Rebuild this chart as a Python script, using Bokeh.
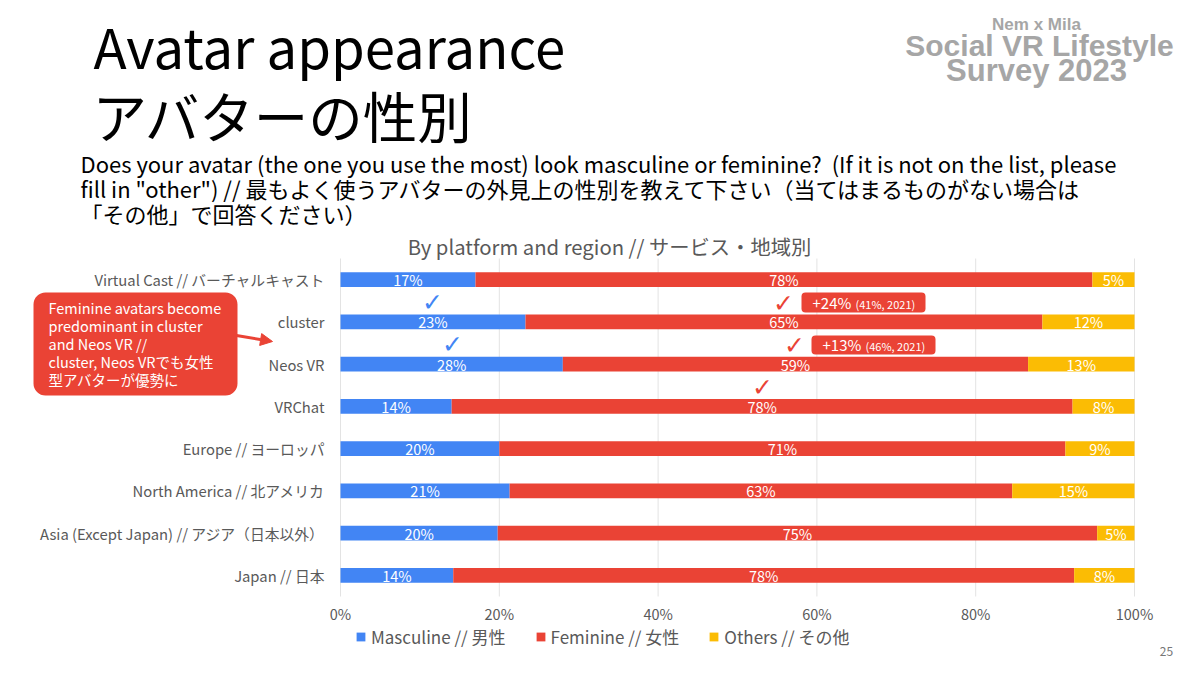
from bokeh.plotting import figure
from bokeh.models import (Range1d, LinearScale, LinearAxis, Label, BoxAnnotation, Arrow,
                          NormalHead, ColumnDataSource, FixedTicker, PrintfTickFormatter,
                          Legend, LegendItem)
from bokeh.embed import file_html
from bokeh.resources import INLINE
from bokeh.core.properties import value

# ---------------- data ----------------
categories = ["Virtual Cast // バーチャルキャスト", "cluster", "Neos VR", "VRChat",
              "Europe // ヨーロッパ", "North America // 北アメリカ",
              "Asia (Except Japan) // アジア（日本以外）", "Japan // 日本"]
masculine = [17.0, 23.3, 28.0, 14.0, 20.0, 21.3, 19.8, 14.2]
feminine = [77.7, 65.1, 58.6, 78.2, 71.3, 63.3, 75.5, 78.2]
others = [5.3, 11.6, 13.4, 7.8, 8.7, 15.4, 4.7, 7.6]
masc_labels = ["17%", "23%", "28%", "14%", "20%", "21%", "20%", "14%"]
fem_labels = ["78%", "65%", "59%", "78%", "71%", "63%", "75%", "78%"]
oth_labels = ["5%", "12%", "13%", "8%", "9%", "15%", "5%", "8%"]
series_names = ["Masculine // 男性", "Feminine // 女性", "Others // その他"]
x_ticks = [0, 20, 40, 60, 80, 100]

colors = ["#4285f4", "#ea4335", "#fbbc04"]
FONT = "Noto Sans CJK JP"
GREY = "#595959"

W, H = 1184, 659
# plot area (0..100 %, 0..n rows) placed at these page pixels
PL, PR, PT, PB = 340, 1134, 258, 596
n = len(categories)
kx = (PR - PL) / 100.0
ky = (PB - PT) / n
y_pos = [n - i - 0.5 for i in range(n)]  # first category on top

p = figure(width=W, height=H, output_backend="svg", toolbar_location=None,
           x_range=Range1d(-PL / kx, (W - PL) / kx),
           y_range=Range1d(-(H - PB) / ky, n + PT / ky),
           x_axis_location=None, y_axis_location=None,
           min_border=0, min_border_left=0, min_border_right=0,
           min_border_top=0, min_border_bottom=0)
p.extra_x_ranges = {"px": Range1d(0, W)}
p.extra_y_ranges = {"py": Range1d(H, 0)}
p.extra_x_scales = {"px": LinearScale()}
p.extra_y_scales = {"py": LinearScale()}
p.outline_line_color = None
p.background_fill_color = "white"
p.border_fill_color = "white"
p.xgrid.visible = False
p.ygrid.visible = False

# vertical grid lines at the x ticks, spanning the bar area
p.segment(x0=x_ticks, x1=x_ticks, y0=[0] * len(x_ticks), y1=[n] * len(x_ticks),
          line_color="#e3e3e3", line_width=1, level="underlay")

# stacked bars
series = [masculine, feminine, others]
labels = [masc_labels, fem_labels, oth_labels]
left = [0.0] * n
renderers = []
for vals, labs, col in zip(series, labels, colors):
    right = [l + v for l, v in zip(left, vals)]
    mid = [(l + r) / 2 for l, r in zip(left, right)]
    src = ColumnDataSource(dict(y=y_pos, left=left, right=right, mid=mid, lab=labs))
    r = p.hbar(y="y", left="left", right="right", height=0.35, source=src,
               fill_color=col, line_color=None)
    renderers.append(r)
    p.text(x="mid", y="y", text="lab", source=src, text_align="center",
           text_baseline="middle", text_color="white", text_font_size="14.5px",
           text_font=value(FONT))
    left = right

# axes (fixed at the 0 lines of the bar area)
xaxis = LinearAxis(fixed_location=0, ticker=FixedTicker(ticks=x_ticks),
                   formatter=PrintfTickFormatter(format="%d%%"))
yaxis = LinearAxis(fixed_location=0, ticker=FixedTicker(ticks=y_pos),
                   major_label_overrides={yp: c for yp, c in zip(y_pos, categories)})
for ax in (xaxis, yaxis):
    ax.axis_line_color = None
    ax.major_tick_line_color = None
    ax.minor_tick_line_color = None
    ax.major_tick_out = 0
    ax.major_tick_in = 0
    ax.minor_tick_out = 0
    ax.major_label_text_color = GREY
    ax.major_label_text_font = FONT
xaxis.major_label_text_font_size = "14.5px"
yaxis.major_label_text_font_size = "14.8px"
xaxis.major_label_standoff = 6
yaxis.major_label_standoff = 16
p.add_layout(xaxis, "below")
p.add_layout(yaxis, "left")

legend = Legend(items=[LegendItem(label=nm, renderers=[r]) for nm, r in zip(series_names, renderers)],
                orientation="horizontal", location=(355, 10), margin=0, padding=0,
                border_line_color=None, background_fill_alpha=0,
                glyph_width=11, glyph_height=11, label_standoff=5, spacing=29,
                label_text_font=FONT, label_text_font_size="17px", label_text_color=GREY,
                label_height=18)
p.add_layout(legend)


# ---------------- annotations (page px coords, vertical centre) ----------------
def lab(x, y, text, size, color="black", align="left", font=FONT, style="normal"):
    p.add_layout(Label(x=x, y=y, text=text, x_range_name="px", y_range_name="py",
                       text_font=font, text_font_size=f"{size}px", text_color=color,
                       text_align=align, text_baseline="middle", text_font_style=style))


def box(l, t, r, b, color, radius):
    p.add_layout(BoxAnnotation(left=l, right=r, top=t, bottom=b,
                               x_range_name="px", y_range_name="py", fill_color=color,
                               fill_alpha=1, line_color=None, border_radius=radius))


# titles
lab(93, 45, "Avatar appearance", 54.5)
lab(92, 114, "アバターの性別", 54.5)
sub = ["Does your avatar (the one you use the most) look masculine or feminine?\u00a0\u00a0(If it is not on the list, please",
       "fill in \"other\") // 最もよく使うアバターの外見上の性別を教えて下さい（当てはまるものがない場合は",
       "「その他」で回答ください）"]
for i, s in enumerate(sub):
    lab(80, 162 + 25 * i, s, 22)
lab(609, 245, "By platform and region // サービス・地域別", 20.3, color=GREY, align="center")

# logo
LOGO = "#a6a6a6"
lab(1036, 24, "Nem x Mila", 17, color=LOGO, align="center", font="Liberation Sans", style="bold")
lab(1039, 45, "Social VR Lifestyle", 30, color=LOGO, align="center", font="Liberation Sans", style="bold")
lab(1036, 70, "Survey 2023", 31, color=LOGO, align="center", font="Liberation Sans", style="bold")

# page number
lab(1166, 651, "25", 12, color="#777777", align="center")

# callout
box(33, 292, 237, 395, "#ea4335", 12)
callout = ["Feminine avatars become", "predominant in cluster", "and Neos VR //",
           "cluster, Neos VRでも女性", "型アバターが優勢に"]
for i, s in enumerate(callout):
    lab(48, 307 + 18 * i, s, 14.5, color="white")
p.add_layout(Arrow(x_start=236, y_start=335, x_end=272, y_end=341,
                   x_range_name="px", y_range_name="py", line_color="#ea4335", line_width=3,
                   end=NormalHead(size=12, fill_color="#ea4335", line_color="#ea4335")))

# change boxes
box(801, 292, 925, 312, "#ea4335", 4)
box(811, 335, 935, 354, "#ea4335", 4)
lab(812, 302, "+24%", 15, color="white")
lab(855, 303, "(41%, 2021)", 11, color="white")
lab(822, 344, "+13%", 15, color="white")
lab(865, 345, "(46%, 2021)", 11, color="white")

# check marks
for (cx, cy, col) in [(432, 302, "#4285f4"), (452, 344, "#4285f4"),
                      (783, 303, "#ea4335"), (794, 345, "#ea4335"), (762, 387, "#ea4335")]:
    lab(cx, cy, "✓", 25, color=col, align="center", font="DejaVu Sans", style="bold")

open("out.html", "w").write(file_html(p, INLINE))
